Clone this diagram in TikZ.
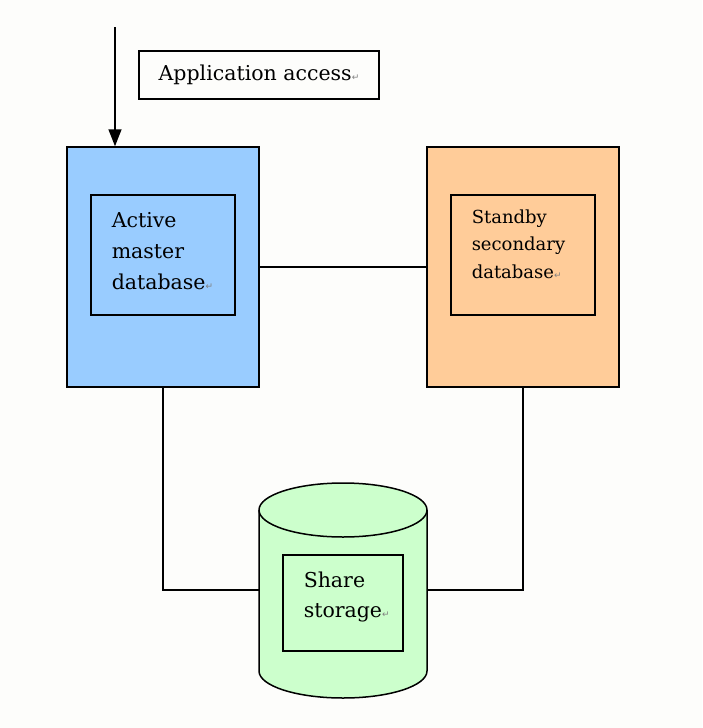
\documentclass[tikz,border=0pt]{standalone}
\usepackage{fontspec}
\setmainfont{DejaVu Serif}
\newfontfamily\markfont{DejaVu Sans}
\usetikzlibrary{arrows.meta}
\definecolor{masterblue}{RGB}{153,204,255}
\definecolor{standbyorange}{RGB}{255,204,153}
\definecolor{storagegreen}{RGB}{204,255,204}
\definecolor{pagebg}{RGB}{253,253,251}
\newcommand{\parmark}{{\markfont\color{gray}\fontsize{9}{9}\selectfont ↵}}

\begin{document}
\begin{tikzpicture}[x=1pt,y=-1pt,line width=1.5pt,
  serverbox/.style={draw,minimum width=192,minimum height=240,inner sep=0},
  dbbox/.style={draw,minimum width=144,minimum height=120,inner sep=0},
  dbtext/.style={anchor=base west,align=left,inner sep=0}]
\fill[pagebg] (0,0) rectangle (702,728);
% servers
\node[serverbox,fill=masterblue] (master) at (163,267) {};
\node[serverbox,fill=standbyorange] (standby) at (523,267) {};
\node[dbbox] (masterdb) at (163,255) {};
\node[dbbox] (standbydb) at (523,255) {};
\node[dbtext,font=\fontsize{20.5}{31}\selectfont] (mastertext) at (111,289) {Active\\master\\database\parmark};
\node[dbtext,font=\fontsize{18}{27.5}\selectfont] (standbytext) at (471,278) {Standby\\secondary\\database\parmark};
% access
\node[draw,minimum width=240,minimum height=48,inner sep=0,font=\fontsize{20.5}{24}\selectfont] (access) at (259,75) {Application access\parmark};
\coordinate (client) at (115,27);
\draw[-{Triangle[length=17pt,width=13pt]}] (client) -- (client |- master.north);
% shared storage
\filldraw[fill=storagegreen] (259,510) -- (259,671) arc[start angle=180,end angle=0,x radius=84,y radius=27]
  -- (427,510) arc[start angle=0,end angle=-180,x radius=84,y radius=27] -- cycle;
\draw (259,510) arc[start angle=180,end angle=0,x radius=84,y radius=27];
\coordinate (storeL) at (259,590);
\coordinate (storeR) at (427,590);
\node[draw,minimum width=120,minimum height=96,inner sep=0] (storebox) at (343,603) {};
\node[dbtext,font=\fontsize{20.5}{30}\selectfont] (storetext) at (303,617) {Share\\storage\parmark};
% links
\draw (master.east) -- (standby.west);
\draw (master.south) |- (storeL);
\draw (standby.south) |- (storeR);
\end{tikzpicture}
\end{document}
